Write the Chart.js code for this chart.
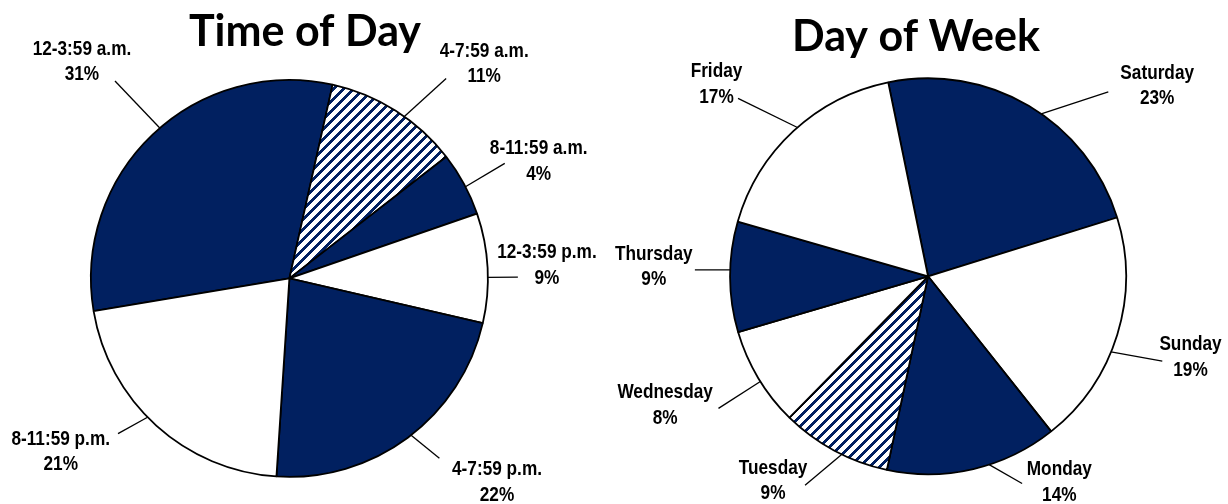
<!DOCTYPE html>
<html>
<head>
<meta charset="utf-8">
<script src="https://cdn.jsdelivr.net/npm/chart.js@4.4.1/dist/chart.umd.min.js"></script>
<style>
  html, body { margin: 0; padding: 0; background: #fff; }
  #wrap { position: relative; width: 1228px; height: 504px; overflow: hidden; }
  canvas { position: absolute; top: 0; }
</style>
</head>
<body>
<div id="wrap">
  <canvas id="timeChart" width="614" height="504" style="left:0"></canvas>
  <canvas id="dayChart" width="614" height="504" style="left:614px"></canvas>
</div>
<script>
// Time of Day
const timeLabels = ['12-3:59 a.m.', '4-7:59 a.m.', '8-11:59 a.m.', '12-3:59 p.m.', '4-7:59 p.m.', '8-11:59 p.m.'];
const timeShares = [31.1, 11.0, 5.2, 8.9, 22.4, 21.3];
const timePct = ['31%', '11%', '4%', '9%', '22%', '21%'];
const timeFill = ['navy', 'hatch', 'navy', 'white', 'navy', 'white'];

// Day of Week
const dayLabels = ['Saturday', 'Sunday', 'Monday', 'Tuesday', 'Wednesday', 'Thursday', 'Friday'];
const dayShares = [23.4, 19.1, 14.0, 9.0, 8.1, 9.0, 17.3];
const dayPct = ['23%', '19%', '14%', '9%', '8%', '9%', '17%'];
const dayFill = ['navy', 'white', 'navy', 'hatch', 'white', 'navy', 'white'];

// label placement: [angle offset from slice middle (deg), distance in radii]
const timeLabelPos = [[-0.3, 1.511], [9.8, 1.461], [3.2, 1.388], [0.1, 1.299], [-8.9, 1.466], [10.7, 1.446]];
// leader line: [start angle offset, end angle offset, end distance in radii]
const timeLeader = [[2.7, 2.0, 1.327], [3.0, 5.7, 1.28], [0.9, 0.3, 1.23], [2.7, 2.7, 1.151], [-1.2, -3.2, 1.18], [3.5, 5.7, 1.165]];
const dayLabelPos = [[19.7, 1.505], [0, 1.387], [-19.3, 1.233], [8.95, 1.296], [4.85, 1.479], [2.15, 1.386], [-5.0, 1.443]];
const dayLeader = [[4.3, 13.8, 1.302], [5.3, 2.75, 1.258], [-4.75, -11.2, 1.149], [-2.35, 2.25, 1.225], [-1.15, -1.25, 1.251], [2.0, 1.75, 1.178], [1.5, -4.1, 1.315]];

const NAVY = '#012060';

// diagonal navy stripes on white
function makeHatch() {
    const c = document.createElement('canvas');
    c.width = 10; c.height = 10;
    const g = c.getContext('2d');
    g.fillStyle = '#fff';
    g.fillRect(0, 0, 10, 10);
    g.fillStyle = NAVY;
    for (let x = 0; x < 10; x++) {
        for (let y = 0; y < 10; y++) {
            if ((x + y) % 10 < 4) g.fillRect(x, y, 1, 1);
        }
    }
    return g.createPattern(c, 'repeat');
}

function hasFont(name) {
    const g = document.createElement('canvas').getContext('2d');
    const s = 'Wednesday 12-3:59 a.m.';
    g.font = 'bold 40px monospace';
    const a = g.measureText(s).width;
    g.font = `bold 40px "${name}", monospace`;
    return g.measureText(s).width !== a;
}
const narrowOK = hasFont('Liberation Sans Narrow');

function drawLabelText(ctx, str, cx, cy) {
    ctx.save();
    ctx.translate(cx, cy);
    if (narrowOK) {
        ctx.font = 'bold 21px "Liberation Sans Narrow"';
    } else {
        ctx.scale(0.82, 1);
        ctx.font = 'bold 21px "Liberation Sans", Arial, sans-serif';
    }
    ctx.fillText(str, 0, 0);
    ctx.restore();
}

const pieAnnotations = {
    id: 'pieAnnotations',
    afterDatasetsDraw(chart, args, opts) {
        const ctx = chart.ctx;
        const arcs = chart.getDatasetMeta(0).data;
        const names = chart.data.labels;
        ctx.save();
        ctx.fillStyle = '#000';
        ctx.textAlign = 'center';
        ctx.textBaseline = 'alphabetic';
        ctx.font = `bold ${opts.titleSize}px Lato, "Open Sans", sans-serif`;
        ctx.fillText(opts.title, opts.titleX, opts.titleY);

        ctx.strokeStyle = '#000';
        ctx.lineWidth = 1.3;
        ctx.textBaseline = 'middle';
        arcs.forEach((arc, i) => {
            const p = arc.getProps(['x', 'y', 'startAngle', 'endAngle', 'outerRadius'], true);
            const mid = (p.startAngle + p.endAngle) / 2;
            const at = (dDeg, k) => {
                const a = mid + dDeg * Math.PI / 180;
                return [p.x + Math.cos(a) * p.outerRadius * k, p.y + Math.sin(a) * p.outerRadius * k];
            };
            const ln = opts.leader[i];
            const s = at(ln[0], 1.0);
            const e = at(ln[1], ln[2]);
            ctx.beginPath();
            ctx.moveTo(s[0], s[1]);
            ctx.lineTo(e[0], e[1]);
            ctx.stroke();

            const lp = at(opts.labelPos[i][0], opts.labelPos[i][1]);
            drawLabelText(ctx, names[i], lp[0], lp[1] - 12.8);
            drawLabelText(ctx, opts.pct[i], lp[0], lp[1] + 12.8);
        });
        ctx.restore();
    }
};

function pieConfig(labels, shares, fills, rotation, padding, ann) {
    const hatch = makeHatch();
    const colors = fills.map(f => f === 'navy' ? NAVY : (f === 'hatch' ? hatch : '#ffffff'));
    return {
        type: 'pie',
        data: {
            labels: labels,
            datasets: [{
                data: shares,
                backgroundColor: colors,
                borderColor: '#000',
                borderWidth: 1.8,
                hoverOffset: 0,
            }],
        },
        options: {
            responsive: false,
            animation: false,
            events: [],
            rotation: rotation,
            layout: { padding: padding },
            plugins: {
                legend: { display: false },
                tooltip: { enabled: false },
                pieAnnotations: ann,
            },
        },
        plugins: [pieAnnotations],
    };
}

new Chart(document.getElementById('timeChart').getContext('2d'),
    pieConfig(timeLabels, timeShares, timeFill, 260.5,
        { left: 90, right: 125.2, top: 79, bottom: 26.2 },
        { title: 'Time of Day', titleX: 305, titleY: 46, titleSize: 43,
          pct: timePct, labelPos: timeLabelPos, leader: timeLeader }));

new Chart(document.getElementById('dayChart').getContext('2d'),
    pieConfig(dayLabels, dayShares, dayFill, -11.6,
        { left: 115.1, right: 101, top: 77.4, bottom: 28.8 },
        { title: 'Day of Week', titleX: 302, titleY: 51, titleSize: 43,
          pct: dayPct, labelPos: dayLabelPos, leader: dayLeader }));
</script>
</body>
</html>
